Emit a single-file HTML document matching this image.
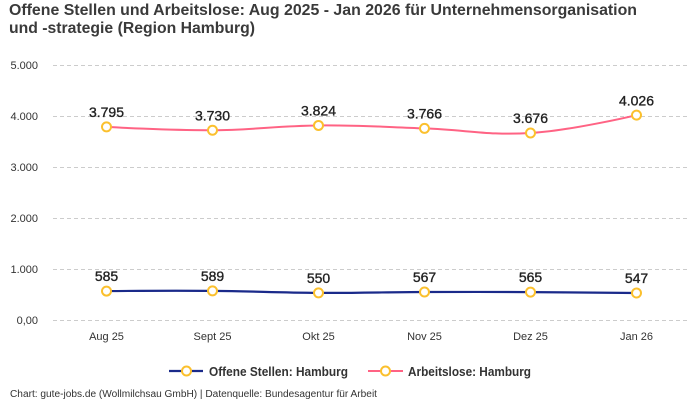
<!DOCTYPE html>
<html><head><meta charset="utf-8">
<style>
html,body{margin:0;padding:0;background:#fff;}
svg{display:block;font-family:"Liberation Sans",sans-serif;}
</style></head>
<body>
<svg width="700" height="400" viewBox="0 0 700 400" xmlns="http://www.w3.org/2000/svg">
<rect width="700" height="400" fill="#fff"/>
<!-- title -->
<text x="9" y="15" font-size="16" font-weight="bold" fill="#3a3a3a" textLength="628" lengthAdjust="spacingAndGlyphs">Offene Stellen und Arbeitslose: Aug 2025 - Jan 2026 für Unternehmensorganisation</text>
<text x="9" y="33" font-size="16" font-weight="bold" fill="#3a3a3a" textLength="246" lengthAdjust="spacingAndGlyphs">und -strategie (Region Hamburg)</text>
<!-- grid -->
<g stroke="#cccccc" stroke-width="1" stroke-dasharray="4,3">
<line x1="53" y1="65.5" x2="690" y2="65.5"/>
<line x1="53" y1="116.5" x2="690" y2="116.5"/>
<line x1="53" y1="167.5" x2="690" y2="167.5"/>
<line x1="53" y1="218.5" x2="690" y2="218.5"/>
<line x1="53" y1="269.5" x2="690" y2="269.5"/>
<line x1="53" y1="320.5" x2="690" y2="320.5"/>
</g>
<g font-size="11" fill="#333" text-anchor="end">
<text x="38" y="69">5.000</text>
<text x="38" y="120">4.000</text>
<text x="38" y="171">3.000</text>
<text x="38" y="222">2.000</text>
<text x="38" y="273">1.000</text>
<text x="38" y="324">0,00</text>
</g>
<g font-size="11" fill="#333" text-anchor="middle">
<text x="106.5" y="340">Aug 25</text>
<text x="212.5" y="340">Sept 25</text>
<text x="318.5" y="340">Okt 25</text>
<text x="424.5" y="340">Nov 25</text>
<text x="530.5" y="340">Dez 25</text>
<text x="636.5" y="340">Jan 26</text>
</g>
<!-- pink series -->
<path d="M106.5,126.9 C106.5,126.9 170.1,130.54 212.5,130.25 C254.9,129.96 276.1,125.81 318.5,125.44 C360.9,125.07 382.1,126.9 424.5,128.41 C466.9,129.92 488.1,135.66 530.5,133.0 C572.9,130.34 636.5,115.1 636.5,115.1" fill="none" stroke="#ff6384" stroke-width="2"/>
<!-- navy series -->
<path d="M106.5,291.08 C106.5,291.08 170.1,290.52 212.5,290.88 C254.9,291.24 276.1,292.65 318.5,292.87 C360.9,293.09 382.1,292.15 424.5,292.0 C466.9,291.85 488.1,291.9 530.5,292.11 C572.9,292.32 636.5,293.03 636.5,293.03" fill="none" stroke="#1a2a8a" stroke-width="2.2"/>
<g fill="#fff" stroke="#fbc02d" stroke-width="2">
<circle cx="106.5" cy="126.9" r="4.5"/>
<circle cx="212.5" cy="130.25" r="4.5"/>
<circle cx="318.5" cy="125.44" r="4.5"/>
<circle cx="424.5" cy="128.41" r="4.5"/>
<circle cx="530.5" cy="133.0" r="4.5"/>
<circle cx="636.5" cy="115.1" r="4.5"/>
<circle cx="106.5" cy="291.08" r="4.5"/>
<circle cx="212.5" cy="290.88" r="4.5"/>
<circle cx="318.5" cy="292.87" r="4.5"/>
<circle cx="424.5" cy="292.0" r="4.5"/>
<circle cx="530.5" cy="292.11" r="4.5"/>
<circle cx="636.5" cy="293.03" r="4.5"/>
</g>
<g font-size="14" fill="#222" stroke="#222" stroke-width="0.35" text-anchor="middle">
<text x="106.5" y="117">3.795</text>
<text x="212.5" y="120.3">3.730</text>
<text x="318.5" y="115.4">3.824</text>
<text x="424.5" y="118.4">3.766</text>
<text x="530.5" y="123">3.676</text>
<text x="636.5" y="105.5">4.026</text>
<text x="106.5" y="281">585</text>
<text x="212.5" y="281">589</text>
<text x="318.5" y="283">550</text>
<text x="424.5" y="282">567</text>
<text x="530.5" y="282">565</text>
<text x="636.5" y="283">547</text>
</g>
<!-- legend -->
<line x1="169" y1="371" x2="203" y2="371" stroke="#1a2a8a" stroke-width="2.2"/>
<circle cx="186.5" cy="371" r="4.5" fill="#fff" stroke="#fbc02d" stroke-width="2"/>
<text x="209" y="376" font-size="12.5" font-weight="bold" fill="#333" textLength="139" lengthAdjust="spacingAndGlyphs">Offene Stellen: Hamburg</text>
<line x1="368" y1="371" x2="403" y2="371" stroke="#ff6384" stroke-width="2"/>
<circle cx="385.5" cy="371" r="4.5" fill="#fff" stroke="#fbc02d" stroke-width="2"/>
<text x="408" y="376" font-size="12.5" font-weight="bold" fill="#333" textLength="123" lengthAdjust="spacingAndGlyphs">Arbeitslose: Hamburg</text>
<!-- footer -->
<text x="10" y="397" font-size="10" fill="#333" textLength="367" lengthAdjust="spacingAndGlyphs">Chart: gute-jobs.de (Wollmilchsau GmbH) | Datenquelle: Bundesagentur für Arbeit</text>
</svg>
</body></html>
